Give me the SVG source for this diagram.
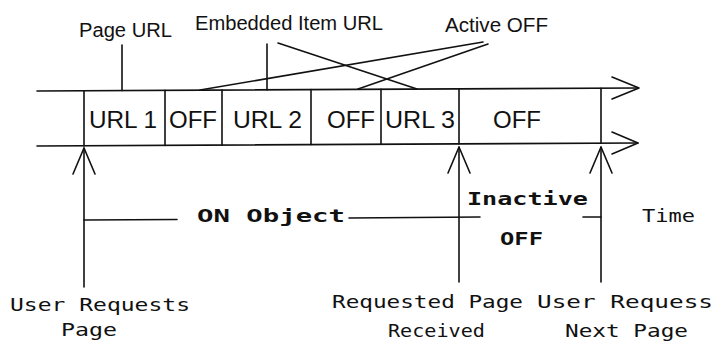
<svg xmlns="http://www.w3.org/2000/svg" width="715" height="341" viewBox="0 0 715 341">
  <style>
    .ln { stroke: #111; stroke-width: 1.6; fill: none; stroke-linecap: round; stroke-linejoin: round; }
    .sans { font-family: "Liberation Sans", Arial, sans-serif; fill: #111; }
    .cell { font-family: "Liberation Sans", Arial, sans-serif; font-size: 24px; fill: #111; }
    .mono { font-family: "DejaVu Sans Mono", "Liberation Mono", monospace; font-size: 17px; fill: #111; }
    .bold { font-weight: bold; }
  </style>
  <defs>
    <!-- open upward arrowhead placed at each event line -->
    <path id="upHead" class="ln" d="M-11,26 L0,0 L11,26"/>
  </defs>
  <rect width="715" height="341" fill="#fff"/>

  <!-- timeline band: two rails with open heads and cell dividers -->
  <g id="timeline">
    <path class="ln" d="M37,91 L638,88"/>
    <path class="ln" d="M37,146 L638,143"/>
    <path class="ln" d="M612,77 L639,88 L612,99"/>
    <path class="ln" d="M612,132 L638,143 L612,154"/>
    <path class="ln" d="M84,91 V146 M165,90.4 V145.4 M222,90.1 V145.1 M311,89.6 V144.6 M381,89.3 V144.3 M459,88.9 V143.9 M601,88.2 V143.2"/>
  </g>

  <g id="cells">
    <text class="cell" x="89" y="128" textLength="68" lengthAdjust="spacingAndGlyphs">URL 1</text>
    <text class="cell" x="169" y="128" textLength="48" lengthAdjust="spacingAndGlyphs">OFF</text>
    <text class="cell" x="233" y="128" textLength="69" lengthAdjust="spacingAndGlyphs">URL 2</text>
    <text class="cell" x="327" y="128" textLength="48" lengthAdjust="spacingAndGlyphs">OFF</text>
    <text class="cell" x="385" y="128" textLength="70" lengthAdjust="spacingAndGlyphs">URL 3</text>
    <text class="cell" x="493" y="128" textLength="48" lengthAdjust="spacingAndGlyphs">OFF</text>
  </g>

  <!-- callouts above the band -->
  <g id="page-url">
    <text class="sans" x="79" y="37" font-size="20" textLength="93" lengthAdjust="spacingAndGlyphs">Page URL</text>
    <path class="ln" d="M122,45 V90.5"/>
  </g>
  <g id="embedded-url">
    <text class="sans" x="195" y="30" font-size="20" textLength="188" lengthAdjust="spacingAndGlyphs">Embedded Item URL</text>
    <path class="ln" d="M267,44 V90 M278,43 L417,89"/>
  </g>
  <g id="active-off">
    <text class="sans" x="445" y="32" font-size="20" textLength="103" lengthAdjust="spacingAndGlyphs">Active OFF</text>
    <path class="ln" d="M483,42 L200,90 M488,44 L358,89"/>
  </g>

  <!-- event markers below the band -->
  <g id="user-requests-page">
    <use href="#upHead" x="84" y="148"/>
    <path class="ln" d="M84,148 V287"/>
    <text class="mono" x="10" y="311" textLength="180" lengthAdjust="spacingAndGlyphs">User Requests</text>
    <text class="mono" x="61" y="336" textLength="56" lengthAdjust="spacingAndGlyphs">Page</text>
  </g>
  <g id="page-received">
    <use href="#upHead" x="459" y="147"/>
    <path class="ln" d="M459,147 V282"/>
    <text class="mono" x="332" y="308" textLength="191" lengthAdjust="spacingAndGlyphs">Requested Page</text>
    <text class="mono" x="388" y="337" textLength="97" lengthAdjust="spacingAndGlyphs">Received</text>
  </g>
  <g id="next-page">
    <use href="#upHead" x="601" y="147"/>
    <path class="ln" d="M601,147 V282"/>
    <text class="mono" x="537" y="308" textLength="176" lengthAdjust="spacingAndGlyphs">User Requess</text>
    <text class="mono" x="565" y="337" textLength="123" lengthAdjust="spacingAndGlyphs">Next Page</text>
  </g>

  <!-- interval spans -->
  <g id="connectors">
    <path class="ln" d="M84,220 L177,219.5"/>
    <path class="ln" d="M349,218 L480,217"/>
    <path class="ln" d="M583,217 L601,217"/>
  </g>
  <g id="spans">
    <text class="mono bold" x="197" y="222" textLength="148" lengthAdjust="spacingAndGlyphs">ON Object</text>
    <text class="mono bold" x="467" y="205" textLength="121" lengthAdjust="spacingAndGlyphs">Inactive</text>
    <text class="mono bold" x="500" y="245" textLength="43" lengthAdjust="spacingAndGlyphs">OFF</text>
    <text class="mono" x="642" y="222" textLength="53" lengthAdjust="spacingAndGlyphs">Time</text>
  </g>
</svg>
